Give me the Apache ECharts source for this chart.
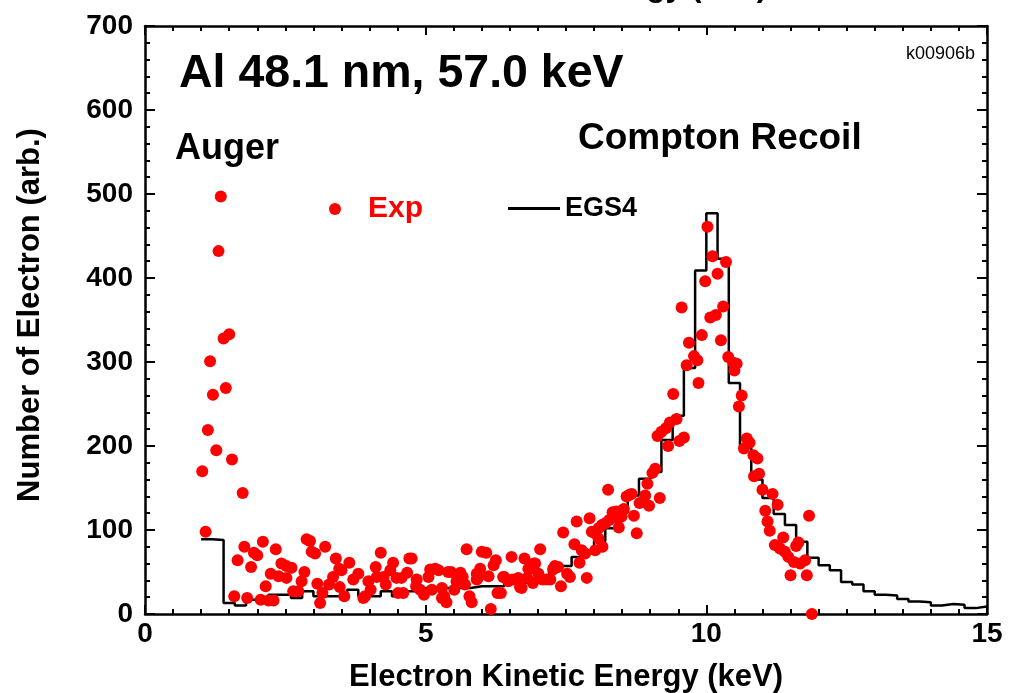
<!DOCTYPE html>
<html>
<head>
<meta charset="utf-8">
<script src="https://cdn.jsdelivr.net/npm/echarts@6/dist/echarts.min.js"></script>
<style>
html,body{margin:0;padding:0;background:#fff;}
#chart{width:1015px;height:693px;}
</style>
</head>
<body>
<div id="chart"></div>
<script>
// ---- Data ----
// EGS4 histogram: bins of 0.2 keV starting at 1.0 keV
const histStart = 1.0;
const histBinWidth = 0.2;
const histCounts = [
  89, 88, 13, 10, 17, 17, 23, 23, 19, 27,
  21, 21, 21, 29, 21, 21, 27, 21, 27, 27,
  31, 31, 31, 31, 33, 33, 33, 36, 37, 40,
  46, 57, 57, 68, 73, 87, 102, 121, 141, 161,
  169, 207, 236, 293, 409, 477, 423, 275, 198, 160,
  138, 119, 106, 86, 67, 58, 52, 38, 35, 27,
  23, 22, 18, 15, 14, 10, 12, 11, 7, 9
];
// Experimental points: energy (keV) and counts
const expEnergy = [
  1.02,1.08,1.12,1.16,1.21,1.27,1.31,1.35,1.40,1.44,1.50,1.55,1.74,
  1.59,1.65,1.77,1.82,1.89,1.94,2.00,2.06,2.10,2.15,2.20,2.24,2.29,2.33,2.38,2.43,
  2.52,2.52,2.61,2.64,2.73,2.79,2.84,2.88,2.94,2.97,3.03,3.07,3.12,3.16,3.21,3.28,
  3.35,3.40,3.46,3.47,3.50,3.55,3.64,3.71,3.80,3.89,3.92,3.98,4.02,4.11,4.13,4.20,
  4.25,4.29,4.37,4.42,4.48,4.51,4.57,4.60,4.67,4.71,4.75,4.83,4.84,4.90,4.97,5.05,
  5.08,5.11,5.17,5.23,5.29,5.29,5.33,5.37,5.40,5.45,5.51,5.55,5.62,5.66,5.70,5.73,
  5.78,5.82,5.91,5.91,5.94,5.97,6.00,6.08,6.12,6.16,6.21,6.25,6.28,6.34,6.38,6.40,
  6.47,6.53,6.55,6.62,6.65,6.68,6.71,6.76,6.81,6.83,6.86,6.91,6.93,6.95,7.01,7.04,
  7.08,7.16,7.22,7.27,7.30,7.36,7.41,7.45,7.52,7.57,7.65,7.69,7.74,7.78,7.84,7.87,
  7.92,7.96,8.02,8.02,8.08,8.08,8.14,8.15,8.20,8.25,8.27,8.33,8.39,8.40,8.43,8.44,
  8.49,8.52,8.53,8.58,8.63,8.67,8.71,8.76,8.81,8.91,8.95,8.98,9.04,9.09,9.13,9.17,
  9.20,9.28,9.32,9.35,9.41,9.47,9.52,9.56,9.60,9.65,9.69,9.78,9.84,9.86,9.92,9.98,
  10.02,10.07,10.11,10.17,10.20,10.26,10.30,10.35,10.39,10.48,10.50,10.54,10.58,10.63,10.67,10.72,
  10.77,10.84,10.85,10.91,10.94,11.00,11.05,11.09,11.13,11.18,11.22,11.27,11.31,11.37,11.40,11.46,
  11.50,11.56,11.60,11.64,11.67,11.76,11.79,11.83,11.88
];
const expCounts = [
  170,98,219,301,261,195,432,497,328,269,333,184,144,
  21,64,80,19,56,73,70,17,86,33,16,48,16,77,45,60,
  57,43,55,27,27,39,50,89,87,74,72,36,13,25,80,35,
  44,66,54,32,52,21,61,41,48,19,21,39,29,56,44,73,
  44,35,52,61,43,25,43,25,49,66,66,33,41,29,23,44,
  53,29,54,52,31,19,21,14,50,50,29,39,49,44,35,77,
  21,14,48,41,44,54,74,73,45,6,58,64,25,25,44,44,
  39,68,41,41,43,32,31,66,43,54,54,37,60,60,48,77,
  41,41,41,53,57,56,33,97,48,44,83,110,61,76,72,43,
  114,98,96,76,102,90,106,80,108,148,112,121,118,122,114,103,
  116,124,125,140,142,143,117,96,132,141,155,129,168,173,212,138,
  217,221,200,228,262,232,206,365,210,296,323,307,302,275,332,396,
  461,353,426,356,405,326,366,419,306,299,290,298,247,260,197,209,
  204,189,164,185,167,148,123,110,99,143,82,130,78,91,74,68,
  46,62,81,85,60,64,46,117,0
];
const xTicks = { min: 0, max: 15, interval: 5 };
const yTicks = { min: 0, max: 700, interval: 100 };

// ---- Build series data ----
const histData = histCounts.map((c, i) => [+(histStart + i * histBinWidth).toFixed(2), c]);
histData.push([+(histStart + histCounts.length * histBinWidth).toFixed(2), histCounts[histCounts.length - 1]]);
const expData = expEnergy.map((e, i) => [e, expCounts[i]]);

const FONT = '"Liberation Sans", Arial, Helvetica, sans-serif';
const chart = echarts.init(document.getElementById('chart'), null, { renderer: 'canvas' });

const baseX = {
  type: 'value', min: xTicks.min, max: xTicks.max, interval: xTicks.interval,
  splitLine: { show: false },
  axisLine: { show: true, onZero: false, lineStyle: { color: '#000', width: 2.5 } },
  axisTick: { show: true, inside: true, length: 9, lineStyle: { color: '#000', width: 2 } },
  minorTick: { show: true, splitNumber: 10, length: 5, lineStyle: { color: '#000', width: 2 } }
};
const baseY = {
  type: 'value', min: yTicks.min, max: yTicks.max, interval: yTicks.interval,
  splitLine: { show: false },
  axisLine: { show: true, onZero: false, lineStyle: { color: '#000', width: 2.5 } },
  axisTick: { show: true, inside: true, length: 10, lineStyle: { color: '#000', width: 2 } },
  minorTick: { show: true, splitNumber: 5, length: 5, lineStyle: { color: '#000', width: 2 } }
};

chart.setOption({
  animation: false,
  backgroundColor: '#fff',
  grid: { left: 145, right: 28, top: 26, bottom: 79, containLabel: false, outerBoundsMode: 'none' },
  xAxis: [
    Object.assign({}, baseX, {
      position: 'bottom',
      axisLabel: { color: '#000', fontFamily: FONT, fontWeight: 'bold', fontSize: 28, margin: 6 },
      name: 'Electron Kinetic Energy (keV)', nameLocation: 'middle', nameGap: 48,
      nameTextStyle: { color: '#000', fontFamily: FONT, fontWeight: 'bold', fontSize: 31 }
    }),
    Object.assign({}, baseX, { position: 'top', axisLabel: { show: false } })
  ],
  yAxis: [
    Object.assign({}, baseY, {
      position: 'left',
      axisLabel: { color: '#000', fontFamily: FONT, fontWeight: 'bold', fontSize: 28, margin: 12 },
      name: 'Number of Electron (arb.)', nameLocation: 'middle', nameGap: 99,
      nameTextStyle: { color: '#000', fontFamily: FONT, fontWeight: 'bold', fontSize: 31, padding: [0, 0, 0, 10] }
    }),
    Object.assign({}, baseY, { position: 'right', axisLabel: { show: false } })
  ],
  legend: [
    {
      data: [{ name: 'Exp', icon: 'circle' }],
      left: 324, top: 189, itemWidth: 12, itemHeight: 12,
      selectedMode: false,
      textStyle: { color: '#ff0000', fontFamily: FONT, fontWeight: 'bold', fontSize: 30, padding: [0, 0, 0, 22] }
    },
    {
      data: [{ name: 'EGS4', icon: 'rect' }],
      left: 503, top: 190, itemWidth: 52, itemHeight: 3,
      selectedMode: false,
      textStyle: { color: '#000', fontFamily: FONT, fontWeight: 'bold', fontSize: 27 }
    }
  ],
  graphic: [
    { type: 'text', left: 179, top: 51, style: { text: 'Al 48.1 nm, 57.0 keV', font: 'bold 46.5px ' + FONT, fill: '#000' } },
    { type: 'text', left: 175, top: 131, style: { text: 'Auger', font: 'bold 36px ' + FONT, fill: '#000' } },
    { type: 'text', left: 578, top: 120, style: { text: 'Compton Recoil', font: 'bold 37px ' + FONT, fill: '#000' } },
    { type: 'text', right: 40, top: 45, style: { text: 'k00906b', font: '18px ' + FONT, fill: '#000' } },
    { type: 'text', x: 550, y: 3, style: { text: 'Electron Kinetic Energy (keV)', font: 'bold 31px ' + FONT, fill: '#000', textAlign: 'center', textVerticalAlign: 'bottom' } }
  ],
  series: [
    {
      name: 'EGS4', type: 'line', step: 'end', data: histData,
      symbol: 'none', showSymbol: false,
      lineStyle: { color: '#000', width: 2.5 }, itemStyle: { color: '#000' },
      z: 2
    },
    {
      name: 'Exp', type: 'scatter', data: expData,
      symbol: 'circle', symbolSize: 12,
      itemStyle: { color: '#ff0000', opacity: 1 },
      z: 3
    }
  ]
});
</script>
</body>
</html>
